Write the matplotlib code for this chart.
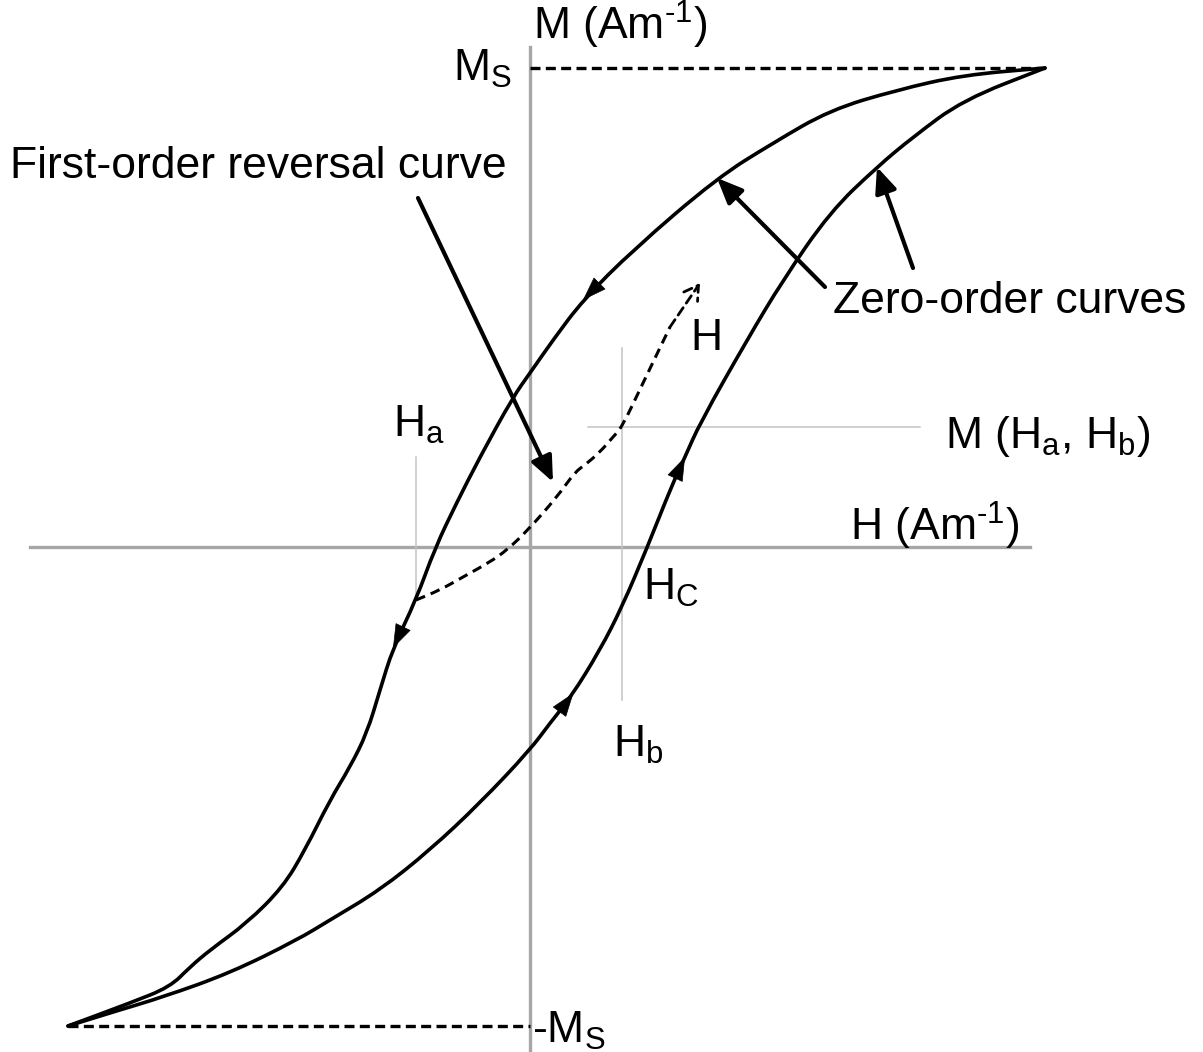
import numpy as np
import matplotlib.pyplot as plt
from matplotlib.path import Path
from matplotlib.patches import PathPatch

plt.rcParams['font.family'] = ['Liberation Sans', 'DejaVu Sans']
plt.rcParams['mathtext.default'] = 'regular'

# Hysteresis loop (arbitrary units, M_S ~ 479)
# descending branch: from +M_S down to -M_S
upper_H = [515, 433, 367, 300, 243, 187, 103, 53, 23, 0, -17, -50, -73,
           -95, -114, -137, -150, -163, -180, -200, -225, -247, -283, -320,
           -340, -360, -400, -462]
upper_M = [479, 472, 457, 437, 404, 369, 297, 247, 207, 174, 150, 90, 45,
           -1, -53, -101, -143, -186, -220, -253, -303, -340, -376, -403,
           -420, -440, -456, -479]

# ascending branch: from -M_S up to +M_S
lower_H = [-462, -417, -367, -300, -233, -200, -150, -100, -50, 0, 20, 41,
           70, 92, 117, 142, 155, 170, 217, 253, 300, 347, 383, 433, 515]
lower_M = [-479, -465, -450, -426, -393, -373, -343, -303, -256, -203, -176,
           -150, -103, -60, -1, 62, 90, 124, 207, 267, 335, 380, 410, 447, 479]

# first-order reversal curve, starting at H_a on the descending branch
forc_H = [-114, -90, -67, -40, -23, -2, 27, 45, 55, 70, 83, 92, 113, 140, 170]
forc_M = [-53, -43, -30, -15, -3, 17, 50, 75, 82, 95, 110, 120, 164, 220, 264]

M_s = 479
H_a = -114
H_b = 92
M_ab = 120

# direction arrows on the branches (at these M values)
upper_arrow_M = [247, -101]
lower_arrow_M = [-146, 90]


def smooth_curve(ax, xs, ys, **kw):
    # quadratic bezier through the midpoints, read points act as controls
    pts = np.column_stack([xs, ys]).astype(float)
    verts = [pts[0], (pts[0] + pts[1]) / 2]
    codes = [Path.MOVETO, Path.LINETO]
    for i in range(1, len(pts) - 1):
        verts += [pts[i], (pts[i] + pts[i + 1]) / 2]
        codes += [Path.CURVE3, Path.CURVE3]
    verts.append(pts[-1])
    codes.append(Path.LINETO)
    patch = PathPatch(Path(verts, codes), facecolor='none', **kw)
    ax.add_patch(patch)


fig = plt.figure(figsize=(12.03, 10.52), dpi=100)
ax = fig.add_axes([0, 0, 1, 1])
ax.set_xlim(-530, 673)
ax.set_ylim(-505, 547)
ax.axis('off')

grey = '#a6a6a6'
thin = '#c4c4c4'

# axes
ax.plot([-500, 500], [0, 0], color=grey, lw=2.4, zorder=1)
ax.plot([0, 0], [-503, 500], color=grey, lw=2.4, zorder=1)

# H_a, H_b and M(H_a, H_b) guide lines
ax.plot([H_a, H_a], [90, -53], color=thin, lw=1.1, zorder=1)
ax.plot([H_b, H_b], [199, -153], color=thin, lw=1.1, zorder=1)
ax.plot([58, 390], [M_ab, M_ab], color=thin, lw=1.1, zorder=1)

# saturation lines
ax.plot([0, upper_H[0]], [M_s, M_s], color='black', lw=2.4,
        linestyle=(0, (3.0, 1.6)), zorder=2)
ax.plot([upper_H[-1], 0], [-M_s, -M_s], color='black', lw=2.4,
        linestyle=(0, (3.0, 1.6)), zorder=2)

# zero-order curves
smooth_curve(ax, upper_H, upper_M, edgecolor='black', lw=2.6,
             joinstyle='round', capstyle='round', zorder=3)
smooth_curve(ax, lower_H, lower_M, edgecolor='black', lw=2.6,
             joinstyle='round', capstyle='round', zorder=3)

# FORC (dashed, open arrow head)
smooth_curve(ax, forc_H[:-1], forc_M[:-1], edgecolor='black', lw=2.2,
             linestyle=(0, (3.2, 2.0)), zorder=3)
ax.annotate('', xy=(forc_H[-1], forc_M[-1]), xytext=(forc_H[-2], forc_M[-2]),
            arrowprops=dict(arrowstyle='->,head_length=0.5,head_width=0.3',
                            lw=2.0, linestyle=(0, (3.2, 2.0)), color='black',
                            shrinkA=0, shrinkB=0, mutation_scale=20))

# branch direction arrows
uH = np.array(upper_H)[::-1]
uM = np.array(upper_M)[::-1]
for m in upper_arrow_M:
    tip = (np.interp(m, uM, uH), m)
    tail = (np.interp(m + 12, uM, uH), m + 12)
    ax.annotate('', xy=tip, xytext=tail,
                arrowprops=dict(arrowstyle='-|>,head_length=0.8,head_width=0.28',
                                lw=0.5, color='black', shrinkA=0, shrinkB=0,
                                mutation_scale=20), zorder=4)
lH = np.array(lower_H)
lM = np.array(lower_M)
for m in lower_arrow_M:
    tip = (np.interp(m, lM, lH), m)
    tail = (np.interp(m - 12, lM, lH), m - 12)
    ax.annotate('', xy=tip, xytext=tail,
                arrowprops=dict(arrowstyle='-|>,head_length=0.8,head_width=0.28',
                                lw=0.5, color='black', shrinkA=0, shrinkB=0,
                                mutation_scale=20), zorder=4)

# label arrows
label_arrow = dict(arrowstyle='-|>,head_length=0.7,head_width=0.3', lw=3,
                   color='black', shrinkA=0, shrinkB=0, mutation_scale=22)
ax.annotate('', xy=(23, 65), xytext=(-112, 349), arrowprops=label_arrow)
ax.annotate('', xy=(187, 369), xytext=(295, 260), arrowprops=label_arrow)
ax.annotate('', xy=(347, 380), xytext=(383, 279), arrowprops=label_arrow)

fs = 32
hy = '\u2010'
ax.text(-520, 369, 'First-order reversal curve', fontsize=fs, va='baseline')
ax.text(303, 234, 'Zero-order curves', fontsize=fs, va='baseline')
ax.text(3, 507, 'M (Am$^{' + hy + '1}$)', fontsize=fs, va='baseline')
ax.text(-18, 466, 'M$_S$', fontsize=fs, va='baseline', ha='right')
ax.text(2, -496, '-M$_S$', fontsize=fs, va='baseline')
ax.text(320, 6, 'H (Am$^{' + hy + '1}$)', fontsize=fs, va='baseline')
ax.text(415, 99, 'M (H$_a$, H$_b$)', fontsize=fs, va='baseline')
ax.text(-137, 110, 'H$_a$', fontsize=fs, va='baseline')
ax.text(160, 197, 'H', fontsize=fs, va='baseline')
ax.text(113, -53, 'H$_C$', fontsize=fs, va='baseline')
ax.text(83, -210, 'H$_b$', fontsize=fs, va='baseline')

fig.savefig('out.png', dpi=100)
